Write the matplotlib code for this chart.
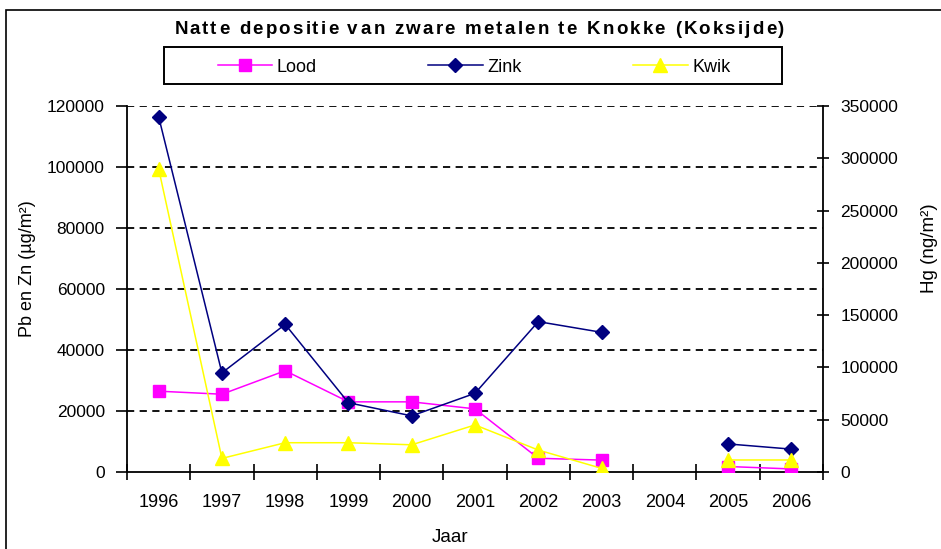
import numpy as np
import matplotlib
matplotlib.use("Agg")
import matplotlib.pyplot as plt
from matplotlib.patches import Rectangle
from matplotlib.lines import Line2D
from matplotlib.font_manager import FontProperties, findfont
from matplotlib.ft2font import FT2Font

plt.rcParams['font.family'] = ['Liberation Sans', 'DejaVu Sans']

years = ['1996', '1997', '1998', '1999', '2000', '2001', '2002', '2003', '2004', '2005', '2006']
lood = [26500, 25500, 33200, 23000, 23000, 20700, 4500, 3900, np.nan, 1800, 1000]
zink = [116500, 32500, 48400, 22700, 18400, 25800, 49300, 45800, np.nan, 9200, 7500]
kwik = [290000, 13000, 28000, 28000, 26000, 45000, 21000, 3500, np.nan, 11500, 11500]

left_ticks = [0, 20000, 40000, 60000, 80000, 100000, 120000]
right_ticks = [0, 50000, 100000, 150000, 200000, 250000, 300000, 350000]

title = 'Natte depositie van zware metalen te Knokke (Koksijde)'

W, H = 941, 549
DPI = 100
fig = plt.figure(figsize=(W / DPI, H / DPI), dpi=DPI)


def tracked_text(s, x_left_px, baseline_px, target_px, size, weight='normal'):
    fp = FontProperties(family='Liberation Sans', weight=weight, size=size)
    font = FT2Font(findfont(fp))
    font.set_size(size, DPI)
    advs, lsbs = [], []
    for c in s:
        g = font.load_char(ord(c))
        advs.append(g.linearHoriAdvance / 65536.0)
        lsbs.append(g.horiBearingX / 64.0)
    natural = sum(advs)
    extra = (target_px - natural) / (len(s) - 1)
    pen = x_left_px
    for i, c in enumerate(s):
        if c != ' ':
            fig.text((pen + lsbs[i]) / W, 1 - baseline_px / H, c, ha='left', va='baseline',
                     fontproperties=fp)
        pen += advs[i] + extra


# chart border
fig.patches.append(Rectangle((6 / W, -0.1), 1.2, 1 - 10 / H + 0.1, transform=fig.transFigure,
                             fill=False, edgecolor='black', linewidth=1.2))

x0, x1, ytop, ybot = 127, 823, 106, 472
ax = fig.add_axes([x0 / W, 1 - ybot / H, (x1 - x0) / W, (ybot - ytop) / H])
ax2 = ax.twinx()

x = np.arange(len(years))
ax.plot(x, lood, color='#FF00FF', marker='s', markersize=8.5, linewidth=1.1, label='Lood', zorder=3)
ax.plot(x, zink, color='#000080', marker='D', markersize=7.5, linewidth=1.1, label='Zink', zorder=4)
ax2.plot(x, kwik, color='#FFFF00', marker='^', markersize=9.5, linewidth=1.1, label='Kwik', zorder=3)

ax.set_xlim(-0.5, len(years) - 0.5)
ax.set_ylim(0, 120000)
ax2.set_ylim(0, 350000)

ax.set_yticks(left_ticks)
ax.set_yticklabels([str(v) for v in left_ticks])
ax2.set_yticks(right_ticks)
ax2.set_yticklabels([str(v) for v in right_ticks])

ax.set_xticks(x)
ax.set_xticklabels(years)
ax.set_xticks(np.arange(-0.5, len(years) + 0.5, 1), minor=True)
ax.tick_params(axis='x', which='major', length=0, pad=16, labelsize=13)
ax.tick_params(axis='x', which='minor', length=11, direction='inout', width=1.2)
ax.tick_params(axis='y', length=8, direction='out', width=1.2, labelsize=12.5, pad=8)
ax2.tick_params(axis='y', length=9, direction='inout', width=1.2, labelsize=12.5, pad=8)

for a in (ax, ax2):
    a.spines['top'].set_visible(False)
    for s in ('left', 'right', 'bottom'):
        a.spines[s].set_linewidth(1.3)
ax.spines['right'].set_visible(False)
ax2.spines['left'].set_visible(False)
ax2.spines['bottom'].set_visible(False)

for v in left_ticks[1:]:
    ax.axhline(v, color='black', linestyle=(0, (4, 3)), linewidth=1.3, zorder=1)

tracked_text(title, 173, 34, 611, 13.5, weight='bold')

# legend box
fig.patches.append(Rectangle((164 / W, 1 - 84 / H), (782 - 164) / W, 37 / H,
                             transform=fig.transFigure, fill=False, edgecolor='black',
                             linewidth=1.4))
handles = [
    Line2D([], [], color='#FF00FF', marker='s', markersize=8.5, linewidth=1.1),
    Line2D([], [], color='#000080', marker='D', markersize=7.5, linewidth=1.1),
    Line2D([], [], color='#FFFF00', marker='^', markersize=9.5, linewidth=1.1),
]
leg = fig.legend(handles, ['Lood', 'Zink', 'Kwik'], loc='center', ncol=3,
                 bbox_to_anchor=(474 / W, 1 - 67 / H), frameon=False,
                 fontsize=13, handlelength=3.0, handletextpad=0.25,
                 columnspacing=6.2, borderpad=0.3)

fig.text(28 / W, 1 - 269 / H, 'Pb en Zn (µg/m²)', rotation=90, ha='center', va='center', fontsize=13)
fig.text(930 / W, 1 - 248 / H, 'Hg (ng/m²)', rotation=90, ha='center', va='center', fontsize=13.5)
fig.text(450 / W, 1 - 537 / H, 'Jaar', ha='center', va='center', fontsize=13.5)

fig.savefig('out.png', dpi=DPI)
